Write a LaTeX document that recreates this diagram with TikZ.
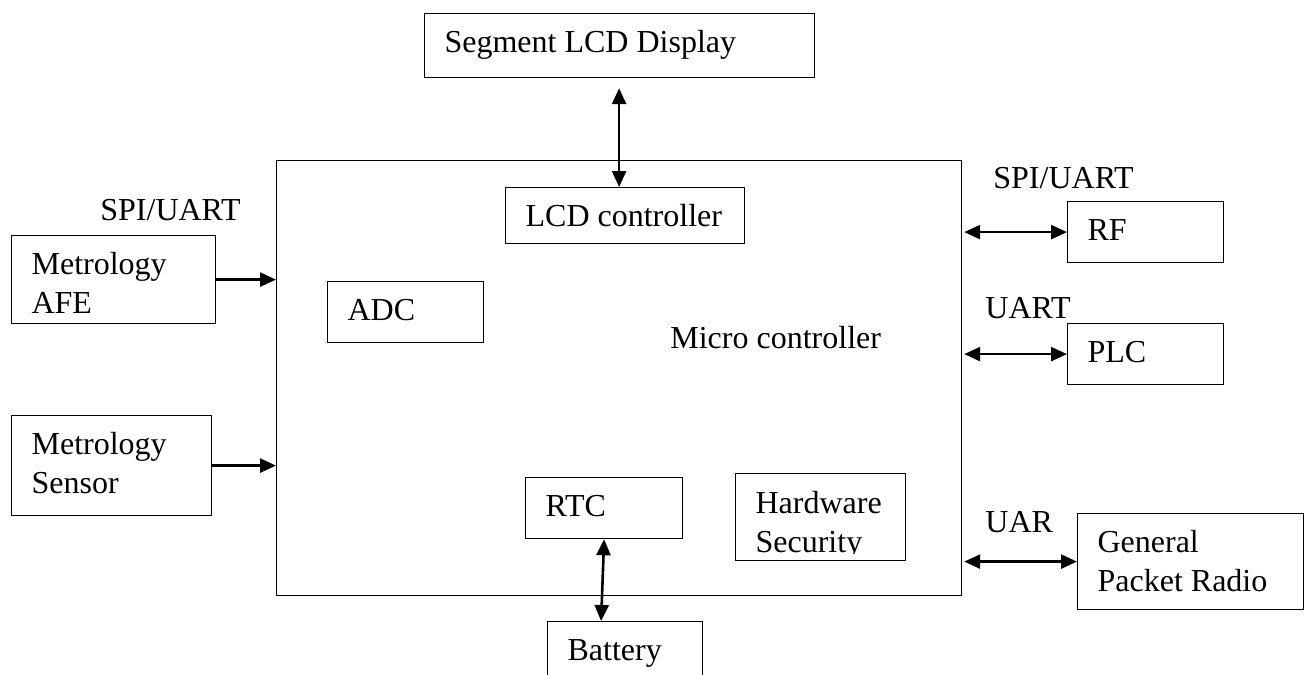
\documentclass[tikz,border=0pt]{standalone}
\usepackage{fontspec}
\setmainfont{Liberation Serif}
\usetikzlibrary{arrows.meta,positioning,calc}

\begin{document}
\begin{tikzpicture}[
  x=0.5pt, y=-0.5pt,
  font=\fontsize{16}{19.5}\selectfont,
  block/.style={draw, line width=0.6pt, anchor=north west, inner xsep=10pt, inner ysep=0pt, text height=19.5pt, align=flush left},
  tag/.style={inner sep=0pt, anchor=base west},
  arrow/.style={-{Triangle[length=8pt,width=7pt]}, line width=1.3pt},
  biarrow/.style={{Triangle[length=8pt,width=7pt]}-{Triangle[length=8pt,width=7pt]}, line width=1.3pt}
]
\useasboundingbox (0,0) rectangle (1308,675);

% micro controller and its parts
\node[block, text width=322.5pt, text depth=198pt] (mcu) at (276,160) {};
\node[tag] (mculbl) at (670,348) {Micro controller};
\node[block, text width=99.5pt, text depth=8.5pt] (lcdc) at (505,187) {\mbox{LCD controller}};
\node[block, text width=58pt, text depth=11pt] (adc) at (327,281) {ADC};
\node[block, text width=58.5pt, text depth=11pt] (rtc) at (525,477) {RTC};
\begin{scope}
  \clip (700,440) rectangle (940,553) (700,559) rectangle (940,600)
        (700,553) rectangle (737,559) (903,553) rectangle (940,559);
  \node[block, text width=65pt, text height=20pt, text depth=23.5pt] (hws) at (735,473) {Hardware\\Security};
\end{scope}

% outside blocks
\node[block, text width=175pt, text depth=12.5pt] (seg) at (424,13) {Segment LCD Display};
\node[block, text width=57.5pt, text depth=15.5pt] (bat) at (547,621) {Battery};
\node[block, text width=82pt, text depth=24.5pt] (afe) at (11,235) {Metrology\\AFE};
\node[block, text width=80pt, text depth=30.5pt] (sen) at (11,415) {Metrology\\Sensor};
\node[block, text width=58pt, text depth=11pt] (rf) at (1067,201) {RF};
\node[block, text width=58pt, text depth=11pt] (plc) at (1067,323) {PLC};
\node[block, text width=93pt, text depth=28.5pt] (gpr) at (1077,513) {General\\Packet Radio};

% bus labels
\node[tag] (lspi) at (100,220) {SPI/UART};
\node[tag] (rspi) at (993,188) {SPI/UART};
\node[tag] (uart) at (985,318) {UART};
\node[tag] (uar) at (985,532) {UAR};

\draw[arrow] (afe.east) -- (afe.east -| mcu.west);
\draw[arrow] (sen.east) -- (sen.east -| mcu.west);
\draw[biarrow, shorten <=1pt] (rf.west -| mcu.east) -- (rf.west);
\draw[biarrow, shorten <=1pt] (plc.west -| mcu.east) -- (plc.west);
\draw[biarrow, shorten <=1pt] (gpr.west -| mcu.east) -- (gpr.west);
\draw[biarrow] ($(seg.south -| lcdc.north)+(-3pt,-5pt)$) -- ($(lcdc.north)+(-3pt,0)$);
\draw[biarrow] (rtc.south) -- ([xshift=-12pt]bat.north);
\end{tikzpicture}
\end{document}
